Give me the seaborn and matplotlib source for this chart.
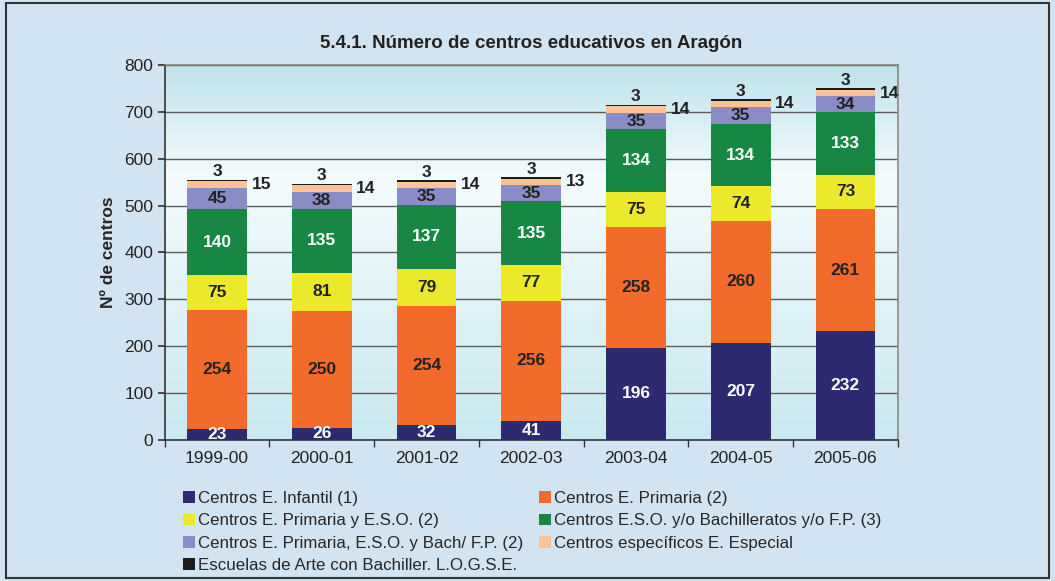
import numpy as np
import pandas as pd
import matplotlib
matplotlib.use("Agg")
import matplotlib.pyplot as plt
import seaborn as sns
from matplotlib.patches import Rectangle, Patch
from matplotlib.colors import LinearSegmentedColormap

years = ["1999-00", "2000-01", "2001-02", "2002-03", "2003-04", "2004-05", "2005-06"]
series_names = [
    "Centros E. Infantil (1)",
    "Centros E. Primaria (2)",
    "Centros E. Primaria y E.S.O. (2)",
    "Centros E.S.O. y/o Bachilleratos y/o F.P. (3)",
    "Centros E. Primaria, E.S.O. y Bach/ F.P. (2)",
    "Centros específicos E. Especial",
    "Escuelas de Arte con Bachiller. L.O.G.S.E.",
]
infantil = [23, 26, 32, 41, 196, 207, 232]
primaria = [254, 250, 254, 256, 258, 260, 261]
prim_eso = [75, 81, 79, 77, 75, 74, 73]
eso_bach = [140, 135, 137, 135, 134, 134, 133]
prim_eso_bach = [45, 38, 35, 35, 35, 35, 34]
especial = [15, 14, 14, 13, 14, 14, 14]
arte = [3, 3, 3, 3, 3, 3, 3]

series = [infantil, primaria, prim_eso, eso_bach, prim_eso_bach, especial, arte]
colors = ["#2e2a72", "#f26b2b", "#ece92c", "#188744", "#8a8cc6", "#fdc394", "#1c1c1c"]
label_colors = ["white", "#222222", "#222222", "white", "#222222", "#222222", "#222222"]

sns.set_theme(style="white")
plt.rcParams["font.family"] = ["Liberation Sans", "DejaVu Sans"]

fig = plt.figure(figsize=(10.55, 5.81), dpi=100)
fig.patch.set_facecolor("#d2e4f2")
fig.patches.append(Rectangle((0.006, 0.006), 0.988, 0.988, transform=fig.transFigure,
                             fill=False, edgecolor="#333333", linewidth=1.5))

ax = fig.add_axes([0.156, 0.243, 0.695, 0.645])
ax.set_xlim(-0.5, 6.5)
ax.set_ylim(0, 800)

# gradient background for plot area
cmap = LinearSegmentedColormap.from_list("bg", [(0, "#c9e9f0"), (0.7, "#f4fbfd"), (1.0, "#bfe3eb")])
grad = np.linspace(0, 1, 256).reshape(-1, 1)
ax.imshow(grad, aspect="auto", cmap=cmap, origin="lower", extent=(-0.5, 6.5, 0, 800), zorder=0)

for y in range(100, 900, 100):
    ax.axhline(y, color="#5a5a5a", linewidth=1.0, zorder=1)

data = np.array(series, dtype=float)
cum = np.cumsum(data, axis=0)
bottoms = np.vstack([np.zeros(len(years)), cum[:-1]])

df = pd.DataFrame({"year": years})
# draw from top layer down so each cumulative bar covers the previous
for i in range(len(series) - 1, -1, -1):
    df["val"] = cum[i]
    sns.barplot(data=df, x="year", y="val", color=colors[i], width=0.57,
                saturation=1, ax=ax, zorder=2, linewidth=0, order=years)

ax.set_xlim(-0.5, 6.5)
ax.set_ylim(0, 800)

# value labels
fs_val = 12.5
for i in range(len(series)):
    for j in range(len(years)):
        v = data[i, j]
        mid = bottoms[i, j] + v / 2
        if i == 5:
            ax.text(j + 0.33, mid, f"{int(v)}", ha="left", va="center", fontsize=fs_val,
                    fontweight="bold", color="#222222", zorder=5)
        elif i == 6:
            ax.text(j, cum[i, j] + 1, f"{int(v)}", ha="center", va="bottom", fontsize=fs_val,
                    fontweight="bold", color="#222222", zorder=5)
        else:
            ax.text(j, mid, f"{int(v)}", ha="center", va="center", fontsize=fs_val,
                    fontweight="bold", color=label_colors[i], zorder=5)

ax.set_xlabel("")
ax.set_ylabel("Nº de centros", fontsize=12.5, fontweight="bold", labelpad=6)
ax.set_title("5.4.1. Número de centros educativos en Aragón", fontsize=13.5,
             fontweight="bold", pad=12, color="#222222")
ax.set_yticks(range(0, 900, 100))
ax.tick_params(axis="y", labelsize=12.5, length=5, color="#333333", direction="out", left=True, pad=3)
ax.tick_params(axis="x", labelsize=12.5, length=0, pad=8)
ax.set_xticks(range(len(years)))
ax.set_xticklabels(years)
ax.set_xticks(np.arange(-0.5, 7.0, 1.0), minor=True)
ax.tick_params(axis="x", which="minor", length=5, color="#333333", bottom=True, direction="out")
for lab in ax.get_xticklabels() + ax.get_yticklabels():
    lab.set_color("#222222")

for s in ["left", "bottom"]:
    ax.spines[s].set_color("#333333")
    ax.spines[s].set_linewidth(1.2)
for s in ["top", "right"]:
    ax.spines[s].set_color("#888888")
    ax.spines[s].set_linewidth(1.2)
    ax.spines[s].set_visible(True)

order = [0, 2, 4, 6, 1, 3, 5]
handles = [Patch(facecolor=colors[k], edgecolor="none") for k in order]
labels = [series_names[k] for k in order]
fig.legend(handles, labels, ncol=2, loc="upper left", bbox_to_anchor=(0.167, 0.166),
           frameon=False, fontsize=12.2, handlelength=0.7, handleheight=0.7,
           handletextpad=0.2, labelspacing=0.42, columnspacing=0.9, borderaxespad=0)

fig.savefig("out.png", dpi=100, facecolor=fig.get_facecolor())
